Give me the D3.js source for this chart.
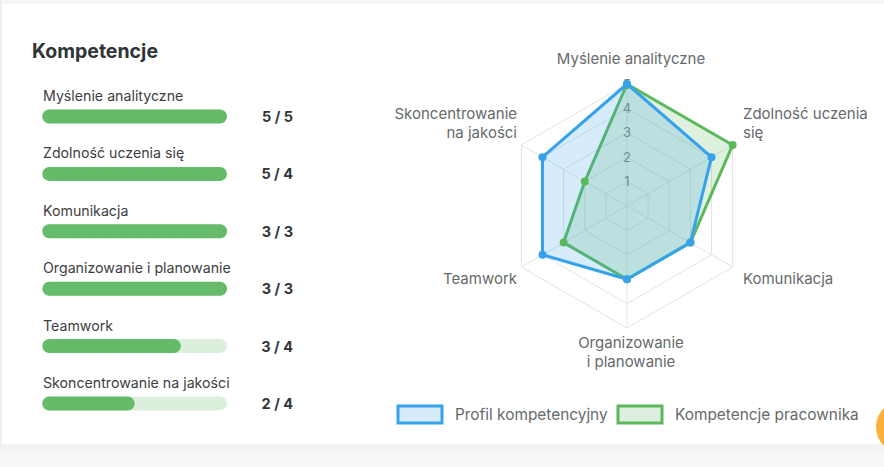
<!DOCTYPE html>
<html>
<head>
<meta charset="utf-8">
<script src="https://cdn.jsdelivr.net/npm/d3@7"></script>
<style>
  html, body { margin: 0; padding: 0; background: #fff; }
  svg { display: block; }
  text { font-family: Inter, "Noto Sans", sans-serif; }
</style>
</head>
<body>
<svg id="chart" width="884" height="467"></svg>
<script>
// ---- data ----
const categories = ["Myślenie analityczne", "Zdolność uczenia się", "Komunikacja",
  "Organizowanie i planowanie", "Teamwork", "Skoncentrowanie na jakości"];
const radarLabels = [["Myślenie analityczne"], ["Zdolność uczenia", "się"], ["Komunikacja"],
  ["Organizowanie", "i planowanie"], ["Teamwork"], ["Skoncentrowanie", "na jakości"]];
const profileValues = [5, 4, 3, 3, 4, 4];   // Profil kompetencyjny (required)
const employeeValues = [5, 5, 3, 3, 3, 2];  // Kompetencje pracownika
const radialTicks = [1, 2, 3, 4, 5];
const seriesNames = ["Profil kompetencyjny", "Kompetencje pracownika"];
const titleText = "Kompetencje";

const svg = d3.select("#chart");
const W = 884, H = 467;

// ---- page background ----
svg.append("rect").attr("x", 0).attr("y", 0).attr("width", W).attr("height", H).attr("fill", "#ffffff");
svg.append("rect").attr("x", 0).attr("y", 0).attr("width", W).attr("height", 4).attr("fill", "#f5f6f8");
svg.append("rect").attr("x", 0).attr("y", 0).attr("width", 1.5).attr("height", 444).attr("fill", "#ececec");
svg.append("rect").attr("x", 0).attr("y", 444).attr("width", W).attr("height", H - 444).attr("fill", "#f6f6f6");
svg.append("rect").attr("x", 0).attr("y", 444).attr("width", W).attr("height", 8).attr("fill", "#f1f3f2");

// ---- left panel: bars ----
svg.append("text").attr("x", 32).attr("y", 57.5).text(titleText)
  .attr("font-size", 19.5).attr("font-weight", 700).attr("fill", "#2f3437");

const barX = d3.scaleLinear().domain([0, 1]).range([42.3, 227]);
const rowY = d3.scaleLinear().domain([0, 1]).range([101, 158.4]);
const green = "#66bb6a", track = "#dcefdd";

categories.forEach((cat, i) => {
  const y = rowY(i);
  const ratio = Math.min(employeeValues[i] / profileValues[i], 1);
  svg.append("text").attr("x", 43).attr("y", y).text(cat)
    .attr("font-size", 14.2).attr("fill", "#3d4042");
  const by = y + 8.5, bh = 14;
  svg.append("rect").attr("x", barX(0)).attr("y", by).attr("width", barX(1) - barX(0)).attr("height", bh)
    .attr("rx", bh / 2).attr("fill", track);
  svg.append("rect").attr("x", barX(0)).attr("y", by).attr("width", barX(ratio) - barX(0)).attr("height", bh)
    .attr("rx", bh / 2).attr("fill", green);
  svg.append("text").attr("x", 293).attr("y", y + 21).attr("text-anchor", "end")
    .text(`${employeeValues[i]} / ${profileValues[i]}`)
    .attr("font-size", 14.5).attr("font-weight", 700).attr("fill", "#333639");
});

// ---- radar ----
const cx = 627, cy = 206, R = 122;
const r = d3.scaleLinear().domain([0, 5]).range([0, R]);
const angle = d3.scaleLinear().domain([0, categories.length]).range([0, 2 * Math.PI]);
const g = svg.append("g").attr("transform", `translate(${cx},${cy})`);

const gridColor = "#e4e4e4";
const ring = d3.lineRadial().curve(d3.curveLinearClosed);
radialTicks.forEach(t => {
  g.append("path").attr("d", ring(categories.map((c, i) => [angle(i), r(t)])))
    .attr("fill", "none").attr("stroke", gridColor).attr("stroke-width", 1);
});
categories.forEach((c, i) => {
  const a = angle(i);
  g.append("line").attr("x1", 0).attr("y1", 0)
    .attr("x2", r(5) * Math.sin(a)).attr("y2", -r(5) * Math.cos(a))
    .attr("stroke", gridColor).attr("stroke-width", 1);
});

// tick labels
radialTicks.forEach(t => {
  g.append("text").attr("x", 0).attr("y", -r(t)).attr("dy", "0.36em")
    .attr("text-anchor", "middle").text(t)
    .attr("font-size", 13).attr("fill", "#7c8585");
});

// series
const series = [
  { name: seriesNames[1], values: employeeValues, stroke: "#5cb85c", fill: "rgba(92,184,92,0.2)" },
  { name: seriesNames[0], values: profileValues, stroke: "#36a2eb", fill: "rgba(54,162,235,0.2)" }
];
const areaLine = d3.lineRadial().curve(d3.curveLinearClosed);
series.forEach(s => {
  const pts = s.values.map((v, i) => [angle(i), r(v)]);
  g.append("path").attr("d", areaLine(pts))
    .attr("fill", s.fill).attr("stroke", s.stroke).attr("stroke-width", 3)
    .attr("stroke-linejoin", "round");
});
series.forEach(s => {
  s.values.forEach((v, i) => {
    const a = angle(i);
    g.append("circle").attr("cx", r(v) * Math.sin(a)).attr("cy", -r(v) * Math.cos(a))
      .attr("r", 4).attr("fill", s.stroke);
  });
});

// point labels
const lineH = 19;
radarLabels.forEach((lines, i) => {
  const a = angle(i);
  const s = Math.sin(a), c = Math.cos(a);
  const lr = R + 5;
  let x = lr * s, y = -lr * c;
  let anchor = "middle";
  if (s > 0.01) { anchor = "start"; x += 6; }
  else if (s < -0.01) { anchor = "end"; }
  const h = lines.length * lineH;
  let top;
  if (c > 0.99) top = y - h - 11;
  else if (c > 0.01) top = y - h;
  else if (c < -0.01) top = y;
  else top = y - h / 2;
  if (anchor === "middle") x += 4;
  const t = g.append("text").attr("text-anchor", anchor)
    .attr("font-size", 15).attr("fill", "#666a6b");
  lines.forEach((ln, k) => {
    t.append("tspan").attr("x", x).attr("y", top + lineH * k + lineH / 2).attr("dy", "0.36em").text(ln);
  });
});

// legend
const legend = [
  { name: seriesNames[0], stroke: "#36a2eb", fill: "#d7ebfa", x: 398 },
  { name: seriesNames[1], stroke: "#5cb85c", fill: "#dfefdf", x: 618 }
];
legend.forEach(l => {
  svg.append("rect").attr("x", l.x).attr("y", 406).attr("width", 44).attr("height", 17)
    .attr("fill", l.fill).attr("stroke", l.stroke).attr("stroke-width", 3);
  svg.append("text").attr("x", l.x + 57).attr("y", 414.5).attr("dy", "0.36em").text(l.name)
    .attr("font-size", 15.4).attr("fill", "#666a6b");
});

// floating orange button partially visible
svg.append("circle").attr("cx", 902.5).attr("cy", 427).attr("r", 26.5).attr("fill", "#fbb03b");
</script>
</body>
</html>
